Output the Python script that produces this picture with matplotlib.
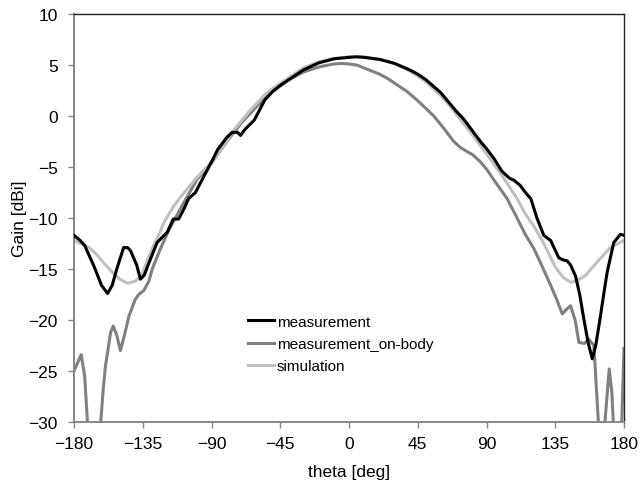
import matplotlib
matplotlib.use("Agg")
import matplotlib.pyplot as plt

plt.rcParams['font.family'] = ['Liberation Sans', 'DejaVu Sans']

# measurement (black)
theta_meas = [-180, -176, -173, -167, -162, -158, -155, -152, -147.5, -145, -143, -139, -136.5,
              -134, -132, -128, -125.6, -119, -115, -111.5, -108, -105, -100.5, -96, -90, -86,
              -80, -76.5, -73, -71, -68, -62, -55, -50, -45, -40, -30, -20, -10, 0, 5, 10, 20,
              30, 40, 45, 50, 60, 70, 75, 80, 86, 90, 95, 100, 105, 108, 112, 116, 119, 123,
              127.5, 132, 137.3, 140, 142.8, 145, 148.3, 151, 153.7, 156.5, 159.2, 161.5, 164.6,
              167, 169, 173.3, 177.7, 180]
gain_meas = [-11.7, -12.2, -12.7, -14.7, -16.6, -17.4, -16.6, -15.0, -12.9, -12.9, -13.2, -14.6, -16.0,
             -15.6, -14.8, -13.3, -12.4, -11.4, -10.1, -10.1, -9.1, -8.1, -7.5, -6.2, -4.5, -3.3,
             -2.1, -1.6, -1.6, -1.9, -1.3, -0.4, 1.6, 2.4, 3.0, 3.5, 4.5, 5.2, 5.6, 5.75, 5.8, 5.75, 5.55,
             5.15, 4.5, 4.1, 3.6, 2.3, 0.5, -0.3, -1.3, -2.5, -3.2, -4.2, -5.4, -6.1, -6.3, -6.8, -7.6, -8.1, -10.0,
             -11.7, -12.2, -13.9, -14.1, -14.2, -14.6, -15.7, -17.5, -19.9, -22.2, -23.8, -22.5, -19.6,
             -17.2, -15.3, -12.4, -11.6, -11.7]

# measurement_on-body (dark grey)
theta_body = [-180, -175.3, -173, -170, -166, -163, -161, -159.4, -156, -154.3, -152, -149.6, -147,
              -144, -140, -137.6, -134.3, -131, -128.8, -123.4, -118, -110, -99.4, -90, -80, -70,
              -60, -50, -40, -30, -20, -10, -5, 0, 5, 10, 20, 25, 30, 38, 45, 55.5, 62, 68.6, 73, 77.4,
              81, 86, 90, 95, 103.5, 110, 115, 121, 126, 132, 136, 139.6, 142, 145, 148, 150.5, 154,
              157, 160.3, 163.6, 165.5, 167, 170.3, 172, 174, 176, 178.3, 180]
gain_body = [-25.0, -23.4, -25.5, -33, -36, -31, -27, -24.5, -21.2, -20.6, -21.5, -23.0, -21.5,
             -19.6, -18.0, -17.5, -17.1, -16.2, -15.0, -13.0, -11.2, -9.0, -6.2, -4.6, -2.5, -0.6,
             1.0, 2.4, 3.5, 4.3, 4.8, 5.1, 5.15, 5.1, 5.0, 4.7, 4.1, 3.7, 3.2, 2.4, 1.5, 0.0, -1.2, -2.5, -3.1, -3.5,
             -3.8, -4.5, -5.2, -6.3, -8.1, -10.0, -11.5, -13.0, -14.6, -16.6, -18.0, -19.4, -19.0, -18.6, -20.0, -22.2, -22.3,
             -21.9, -22.5, -31, -36, -31, -24.8, -27, -33, -36, -31, -22.8]

# simulation (light grey)
theta_sim = [-180, -170, -165, -160, -155, -150, -145, -140, -136, -130, -125, -121, -115, -110, -105,
             -100, -95, -90, -85, -80, -75, -70, -65, -60, -55, -50, -45, -40, -35, -30, -20, -10, 0,
             5, 10, 20, 25, 30, 40, 45, 50, 60, 66, 70, 80, 86, 90, 100, 110, 115, 121, 127.5, 135, 140,
             145, 150, 155, 162.5, 171, 180]
gain_sim = [-12.2, -12.9, -13.6, -14.5, -15.3, -16.0, -16.4, -16.2, -15.7, -13.4, -11.8, -10.4, -8.9, -7.9, -7.0,
            -6.1, -5.3, -4.5, -3.5, -2.4, -1.3, -0.4, 0.5, 1.3, 2.1, 2.7, 3.2, 3.7, 4.2, 4.7, 5.3, 5.65, 5.8,
            5.82, 5.78, 5.55, 5.4, 5.1, 4.4, 3.9, 3.4, 2.0, 1.0, 0.2, -1.7, -2.9, -3.7, -5.8, -8.1, -9.5, -10.8, -12.5, -14.8, -15.8,
            -16.3, -16.1, -15.6, -14.3, -12.9, -12.2]

series_labels = ["measurement", "measurement_on-body", "simulation"]
x_ticks = [-180, -135, -90, -45, 0, 45, 90, 135, 180]
y_ticks = [-30, -25, -20, -15, -10, -5, 0, 5, 10]

fig = plt.figure(figsize=(6.43, 4.81), dpi=100)
ax = fig.add_axes([74/643, 1 - 423/481, 550/643, 408/481])

ax.plot(theta_meas, gain_meas, color='#000000', lw=2.2, label=series_labels[0], zorder=3)
ax.plot(theta_body, gain_body, color='#808080', lw=2.2, label=series_labels[1], zorder=2)
ax.plot(theta_sim, gain_sim, color='#C0C0C0', lw=2.2, label=series_labels[2], zorder=2.5)

ax.set_xlim(-180, 180)
ax.set_ylim(-30, 10)
ax.set_xticks(x_ticks)
ax.set_yticks(y_ticks)
ax.tick_params(axis='both', direction='out', length=4.3, width=1, color='#868686',
               labelsize=12.5, labelcolor='black')
ax.tick_params(axis='x', pad=6)
ax.tick_params(axis='y', pad=7.5)

for s in ['left', 'bottom']:
    ax.spines[s].set_color('#868686')
    ax.spines[s].set_linewidth(1.4)
for s in ['top', 'right']:
    ax.spines[s].set_color('#222222')
    ax.spines[s].set_linewidth(1.0)

ax.set_xlabel('theta [deg]', fontsize=12.5)
ax.set_ylabel('Gain [dBi]', fontsize=12.5)
ax.xaxis.set_label_coords(0.5, -0.103)
ax.yaxis.set_label_coords(-0.086, 0.5)

leg = ax.legend(loc='center left', bbox_to_anchor=(248/643, 1 - 345/481),
                bbox_transform=fig.transFigure, frameon=False, fontsize=11,
                handlelength=1.7, handletextpad=0.2, labelspacing=0.55,
                borderpad=0, borderaxespad=0)

fig.savefig('out.png', dpi=100)
